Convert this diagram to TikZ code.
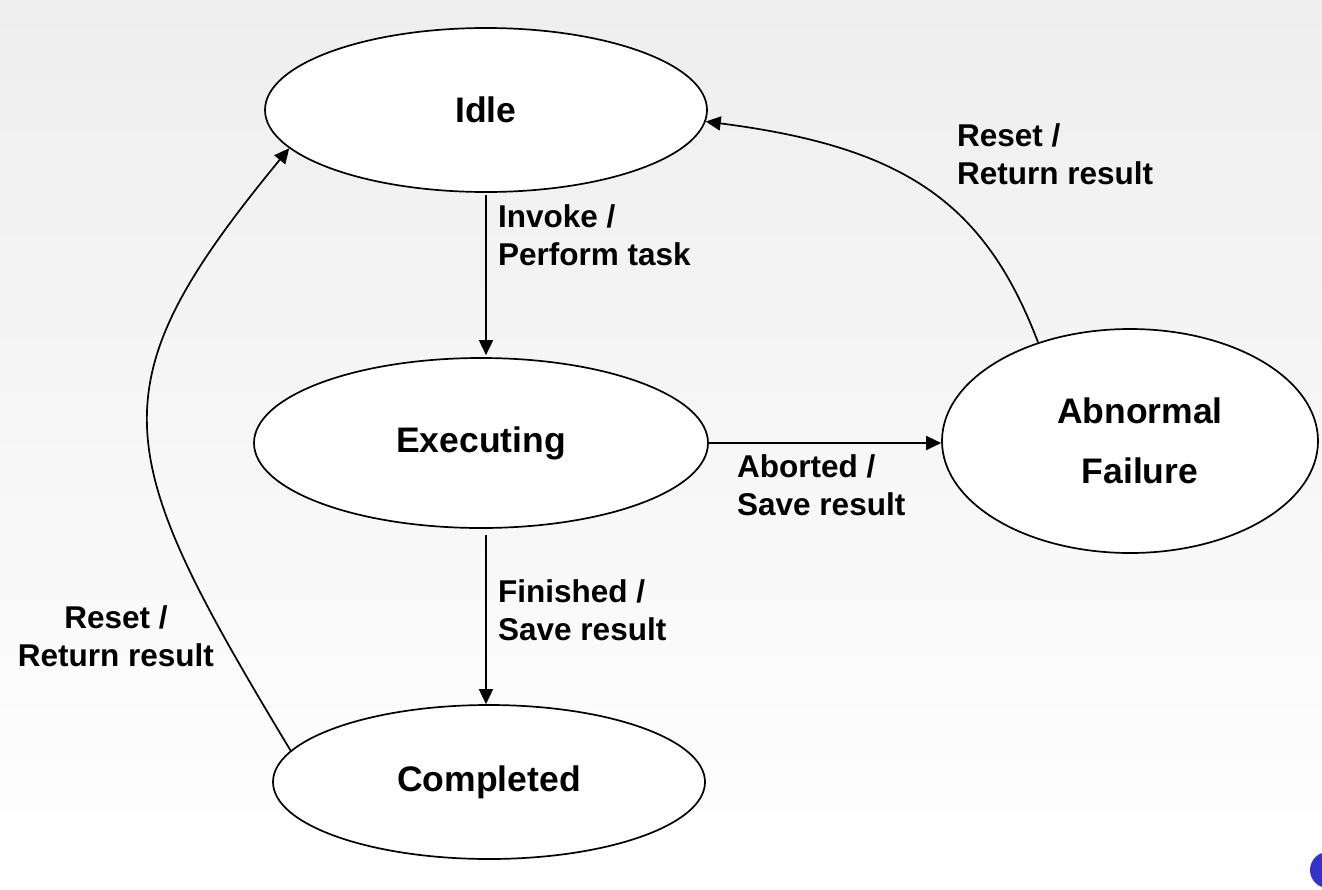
\documentclass[tikz,border=0pt]{standalone}
\usepackage{fontspec}
\setmainfont{Liberation Sans}
\usetikzlibrary{shapes.geometric,arrows.meta}
\definecolor{bgtop}{RGB}{238,238,238}
\definecolor{dotblue}{RGB}{51,51,204}
\tikzset{
  state/.style={ellipse, draw=black, line width=1.7pt, fill=white, inner sep=0pt,
    font=\fontsize{35.5}{60}\selectfont\bfseries, align=center},
  trans/.style={line width=1.7pt, -{Triangle[length=15pt,width=14pt]}},
  lbl/.style={inner sep=0pt, font=\fontsize{31.5}{38}\selectfont\bfseries, align=left}
}
\begin{document}
\begin{tikzpicture}[x=1pt,y=-1pt]
  % page frame and soft background
  \useasboundingbox (0,0) rectangle (1322,889);
  \shade[top color=bgtop, bottom color=white] (0,0) rectangle (1322,889);
  \fill[dotblue] (1328,870) circle (18);

  % states
  \node[state, minimum width=442pt, minimum height=164pt] (idle) at (486,110) {Idle};
  \node[state, minimum width=454pt, minimum height=170pt] (exec) at (481,443) {Executing};
  \node[state, minimum width=376pt, minimum height=224pt] (abn)  at (1130,441) {\hspace*{20pt}Abnormal\\\hspace*{20pt}Failure};
  \node[state, minimum width=432pt, minimum height=154pt] (comp) at (489,782) {Completed};

  % transitions
  \draw[trans] ([yshift=-2pt]idle.south) -- ([yshift=2pt]idle.south |- exec.north);
  \draw[trans] ([yshift=-6pt]exec.south -| idle.south) -- (idle.south |- comp.north);
  \draw[trans] (exec.east) -- (exec.east -| abn.west);
  \draw[trans] (abn.133) .. controls (985,203) and (905,147) .. (idle.-3);
  \draw[trans] (comp.171) .. controls (110,451) and (92,388) .. (idle.191);

  % transition labels
  \node[lbl, anchor=north west] (linvoke) at (498,204) {Invoke /\\Perform task};
  \node[lbl, anchor=north west] (lfinish) at (498,579) {Finished /\\Save result};
  \node[lbl, anchor=north west] (labort)  at (737,454) {Aborted /\\Save result};
  \node[lbl, anchor=north west] (lresetr) at (957,123) {Reset /\\Return result};
  \node[lbl, anchor=north, align=center] (lresetl) at (116,605) {Reset /\\Return result};
\end{tikzpicture}
\end{document}
